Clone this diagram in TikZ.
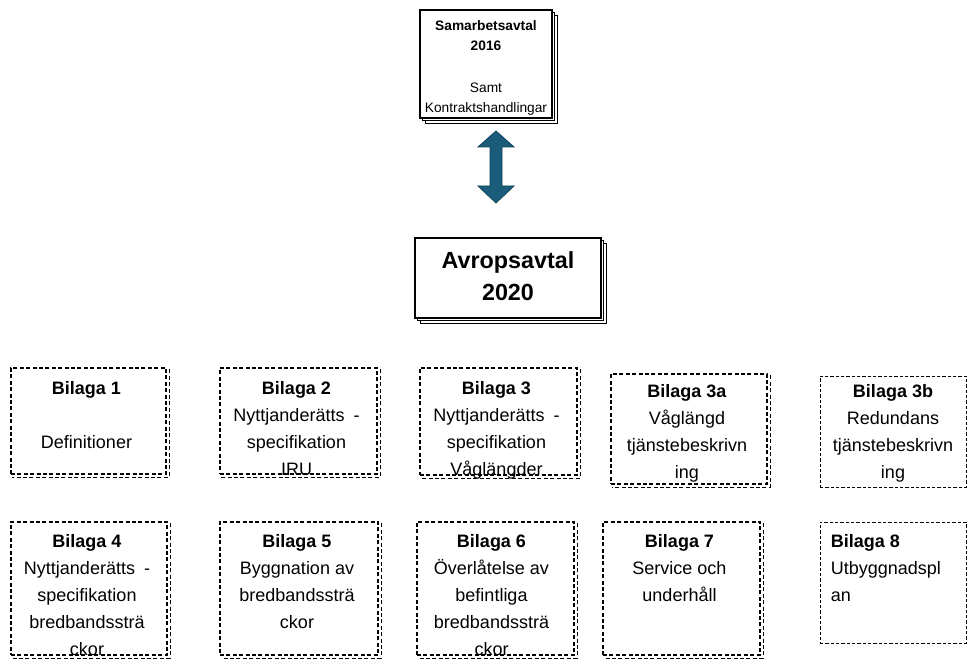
\documentclass[tikz,border=0pt]{standalone}
\usepackage{fontspec}
\setmainfont{Liberation Sans}
\usetikzlibrary{fit,calc}
\definecolor{arrowfill}{RGB}{26,92,122}
\definecolor{arrowline}{RGB}{16,68,92}
\begin{document}
\begin{tikzpicture}[x=0.75pt,y=-0.75pt,
  bilbox/.style={draw=black, line width=0.8pt, dash pattern=on 3pt off 1.8pt, fill=white, inner sep=0pt},
  bilshadow/.style={draw=black, line width=0.8pt, dash pattern=on 3pt off 1.8pt},
  thinbox/.style={draw=black, line width=0.55pt, dash pattern=on 2.4pt off 1.6pt, fill=white, inner sep=0pt},
  btxt/.style={anchor=north, align=center, inner sep=0pt, font={\fontsize{13.5pt}{20.25pt}\selectfont}},
  btxtl/.style={anchor=north west, align=left, inner sep=0pt, font={\fontsize{13.5pt}{20.25pt}\selectfont}},
  mainbox/.style={draw=black, line width=1.1pt, fill=white, inner sep=0pt},
  pagebox/.style={draw=black, line width=0.6pt, fill=white},
  samtxt/.style={anchor=north, align=center, inner sep=0pt, font={\fontsize{10.3pt}{15.5pt}\selectfont}},
  avtxt/.style={anchor=north, align=center, inner sep=0pt, font={\fontsize{17.5pt}{24pt}\selectfont\bfseries}},
  blockarrow/.style={fill=arrowfill, draw=arrowline, line width=0.6pt, line join=miter}
]
\useasboundingbox (0,0) rectangle (968,659);

% Samarbetsavtal (stacked pages)
\draw[pagebox] (425,15) rectangle (557,123);
\draw[pagebox] (422.5,12.5) rectangle (554.5,120.5);
\node[mainbox, fit={(420,10)(552,118)}] (sam) {};
\node[samtxt] (samt) at (486,20) {\textbf{Samarbetsavtal}\\\textbf{2016}\\[15.5pt]Samt\\Kontraktshandlingar};

% double block arrow
\coordinate (atop) at (496,131);
\coordinate (abot) at (496,203);
\draw[blockarrow] (atop) -- (514,147) -- (502,147) -- (502,186) -- (514,186) -- (abot)
  -- (478,186) -- (490,186) -- (490,147) -- (478,147) -- cycle;

% Avropsavtal (stacked pages)
\draw[pagebox] (420,243) rectangle (606,323);
\draw[pagebox] (417.5,240.5) rectangle (603.5,320.5);
\node[mainbox, fit={(415,238)(601,318)}] (avr) {};
\node[avtxt] (avrt) at (508,251) {Avropsavtal\\2020};

% Bilaga boxes with dashed shadow
\newcommand\bshadow[1]{%
  \draw[bilshadow] ([xshift=1.9pt,yshift=-1.5pt]#1.north east) -- ([xshift=1.9pt,yshift=-1.9pt]#1.south east) -- ([xshift=1.5pt,yshift=-1.9pt]#1.south west);}

\node[bilbox, fit={(11,368)(166,474)}] (b1) {};
\bshadow{b1}
\node[btxt] (b1t) at ($(b1.north)+(-2,14)$) {\textbf{Bilaga 1}\\[20.25pt]Definitioner};

\node[bilbox, fit={(220,368)(377,474)}] (b2) {};
\bshadow{b2}
\node[btxt] (b2t) at ($(b2.north)+(-2,14)$) {\textbf{Bilaga 2}\\Nyttjanderätts\enspace -\\specifikation\\IRU};

\node[bilbox, fit={(420,368)(577,475)}] (b3) {};
\bshadow{b3}
\node[btxt] (b3t) at ($(b3.north)+(-2,14)$) {\textbf{Bilaga 3}\\Nyttjanderätts\enspace -\\specifikation\\Våglängder};

\node[bilbox, fit={(611,374)(767,484)}] (b3a) {};
\bshadow{b3a}
\node[btxt] (b3at) at ($(b3a.north)+(-2,11)$) {\textbf{Bilaga 3a}\\Våglängd\\tjänstebeskrivn\\ing};

\node[thinbox, fit={(820,376)(966,487)}] (b3b) {};
\node[btxt] (b3bt) at ($(b3b.north)+(0,9)$) {\textbf{Bilaga 3b}\\Redundans\\tjänstebeskrivn\\ing};

\node[bilbox, fit={(11,522)(167,655)}] (b4) {};
\bshadow{b4}
\node[btxt] (b4t) at ($(b4.north)+(-2,13)$) {\textbf{Bilaga 4}\\Nyttjanderätts\enspace -\\specifikation\\bredbandssträ\\ckor};

\node[bilbox, fit={(220,522)(378,655)}] (b5) {};
\bshadow{b5}
\node[btxt] (b5t) at ($(b5.north)+(-2,13)$) {\textbf{Bilaga 5}\\Byggnation av\\bredbandssträ\\ckor};

\node[bilbox, fit={(417,522)(574,655)}] (b6) {};
\bshadow{b6}
\node[btxt] (b6t) at ($(b6.north)+(-4,13)$) {\textbf{Bilaga 6}\\Överlåtelse av\\befintliga\\bredbandssträ\\ckor};

\node[bilbox, fit={(603,522)(760,655)}] (b7) {};
\bshadow{b7}
\node[btxt] (b7t) at ($(b7.north)+(-2,13)$) {\textbf{Bilaga 7}\\Service och\\underhåll};

\node[thinbox, fit={(820,522)(966,643)}] (b8) {};
\node[btxtl] (b8t) at ($(b8.north west)+(11,13)$) {\textbf{Bilaga 8}\\Utbyggnadspl\\an};

\end{tikzpicture}
\end{document}
